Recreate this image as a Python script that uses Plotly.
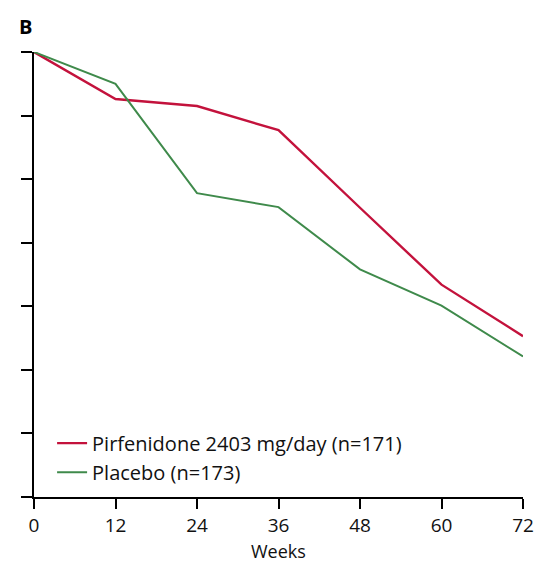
import plotly.graph_objects as go

weeks = [0, 12, 24, 36, 48, 60, 72]
pirfenidone = [100, 92.6, 91.5, 87.7, 75.5, 63.4, 55.3]
placebo = [100, 95.0, 77.8, 75.6, 65.8, 60.1, 52.1]
series_names = ["Pirfenidone 2403 mg/day (n=171)", "Placebo (n=173)"]
x_ticks = [0, 12, 24, 36, 48, 60, 72]
y_ticks = [30, 40, 50, 60, 70, 80, 90, 100]
x_title = "Weeks"
panel_label = "B"

FONT = "Open Sans"

fig = go.Figure()
fig.add_trace(go.Scatter(x=weeks, y=pirfenidone, mode="lines", name=series_names[0],
                         line=dict(color="#c3123c", width=2.4)))
fig.add_trace(go.Scatter(x=weeks, y=placebo, mode="lines", name=series_names[1],
                         line=dict(color="#3f8a4b", width=2)))

fig.update_layout(
    width=538, height=565,
    margin=dict(l=34, r=15, t=52, b=68),
    paper_bgcolor="white", plot_bgcolor="white",
    font=dict(family=FONT, color="#111111", size=18),
    showlegend=True,
    legend=dict(x=0.037, y=0.012, xanchor="left", yanchor="bottom",
                bgcolor="rgba(0,0,0,0)", font=dict(size=20, family=FONT, color="#111111"),
                tracegroupgap=0, itemwidth=30),
    xaxis=dict(range=[0, 72], tickvals=x_ticks, ticks="outside", ticklen=10, tickwidth=2,
               tickcolor="black", showline=True, linecolor="black", linewidth=2,
               showgrid=False, zeroline=False, tickfont=dict(size=19), automargin=False),
    yaxis=dict(range=[30, 100], tickvals=y_ticks, ticks="outside", ticklen=11, tickwidth=2,
               tickcolor="black", showline=True, linecolor="black", linewidth=2,
               showgrid=False, zeroline=False, showticklabels=False, automargin=False),
    annotations=[
        dict(text="<b>" + panel_label + "</b>", xref="paper", yref="paper", x=-0.0184, y=1.058,
             xanchor="center", yanchor="middle", showarrow=False,
             font=dict(size=20, family=FONT, color="black")),
        dict(text=x_title, xref="paper", yref="paper", x=0.5, y=-0.121,
             xanchor="center", yanchor="middle", showarrow=False,
             font=dict(size=18, family=FONT, color="#111111")),
    ],
)

fig.write_html("out.html", config={"displayModeBar": False},
               post_script="document.body.style.margin='0';document.body.style.overflow='hidden';")
